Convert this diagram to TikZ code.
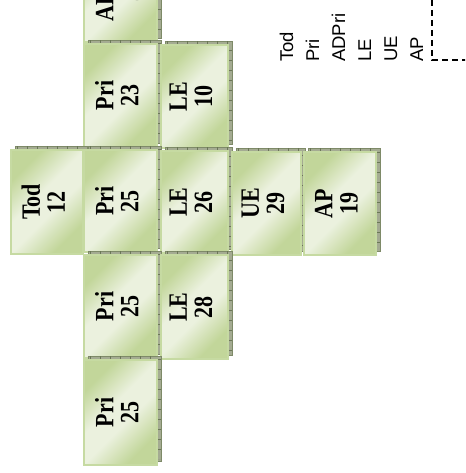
\documentclass[tikz,border=0pt]{standalone}
\usepackage{fontspec}
\setmainfont{Liberation Serif}
\newfontfamily\legendfont{Liberation Sans}
\definecolor{gdark}{HTML}{C2D69A}
\definecolor{glight}{HTML}{EBF1DE}
\definecolor{gborder}{HTML}{C6DAA2}
\definecolor{shadowfill}{HTML}{A4AB92}
\definecolor{shadowedge}{HTML}{7E8A68}
\definecolor{tickcol}{HTML}{6B7757}
\pgfdeclareverticalshading{cellshade}{100bp}{color(0bp)=(gdark); color(27bp)=(gdark);
  color(44bp)=(glight); color(56bp)=(glight); color(73bp)=(gdark); color(100bp)=(gdark)}
\tikzset{
  cell/.style={draw=gborder, line width=1.5pt, shade, shading=cellshade,
    shading angle=45, inner sep=0pt, text=black,
    font=\bfseries\fontsize{22}{21}\selectfont},
  shadowbox/.style={fill=shadowfill, draw=shadowedge, line width=0.5pt},
  shadowtick/.style={draw=tickcol, line width=4pt, dash pattern=on 0.8pt off 9.2pt},
  legend/.style={rotate=90, anchor=base west, inner sep=0pt,
    font=\legendfont\fontsize{18.5}{22}\selectfont},
  dashbox/.style={draw=black, line width=1.5pt, dash pattern=on 6pt off 4pt}
}
\newcommand\cellbox[6]{%
  \filldraw[shadowbox] ({#2+4},{#3-4}) rectangle ({#4+4},{#5-4});
  \draw[shadowtick] ({#2+6},{#3-2}) -- ({#4+2},{#3-2}) -- ({#4+2},{#5-6});
  \node[cell, minimum width={(#4-#2)*1pt}, minimum height={(#5-#3)*1pt}] (#1)
    at ({(#2+#4)/2},{(#3+#5)/2})
    {\rotatebox{90}{\scalebox{1}[1.2]{\begin{tabular}{@{}c@{}}#6\end{tabular}}}};
}
\begin{document}
\begin{tikzpicture}[x=1pt,y=-1pt]
\useasboundingbox (0,0) rectangle (465,473);
\clip (0,0) rectangle (465,473);
\cellbox{adpri}{84}{-60}{157}{42}{ADPri\\21}
\cellbox{pri23}{84}{44}{157}{147}{Pri\\23}
\cellbox{le10}{161}{45}{228}{148}{LE\\10}
\cellbox{tod12}{11}{150}{83}{254}{Tod\\12}
\cellbox{pri25a}{84}{150}{157}{252}{Pri\\25}
\cellbox{le26}{161}{151}{228}{253}{LE\\26}
\cellbox{ue29}{232}{152}{301}{255}{UE\\29}
\cellbox{ap19}{304}{152}{376}{255}{AP\\19}
\cellbox{pri25b}{84}{255}{157}{358}{Pri\\25}
\cellbox{le28}{161}{255}{228}{359}{LE\\28}
\cellbox{pri25c}{84}{360}{157}{465}{Pri\\25}
\node[legend] (lgtod) at (293,62) {Tod};
\node[legend] (lgpri) at (319,62) {Pri};
\node[legend] (lgadpri) at (345,62) {ADPri};
\node[legend] (lgle) at (371,62) {LE};
\node[legend] (lgue) at (397,62) {UE};
\node[legend] (lgap) at (423,62) {AP};
\draw[dashbox] (432,-10) -- (432,60) -- (480,60);
\end{tikzpicture}
\end{document}
